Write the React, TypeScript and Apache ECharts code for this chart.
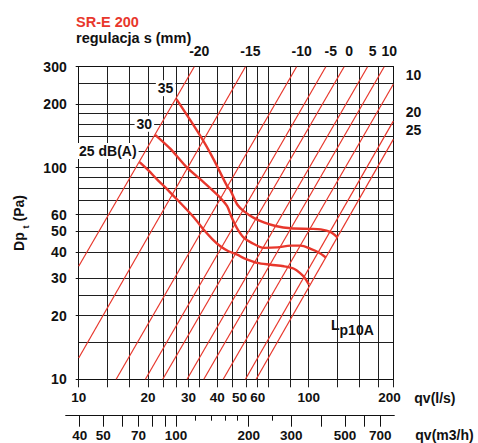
import React, { useEffect, useRef } from 'react';
import * as echarts from 'echarts';

const FONT = '"Liberation Sans", Arial, Helvetica, sans-serif';
const RED = '#e8372c';
const INK = '#111111';
const GRIDC = '#1f1f1f';

// flow axis (l/s)
const qLabels = [10, 20, 30, 40, 50, 60, 100, 200];
const qGrid = [10, 13.33, 16.67, 20, 23.33, 26.67, 30, 33.33, 40, 46.67, 53.33, 60, 66.67, 83.33, 100, 133.3, 166.7, 200, 233.33];
const qMin = 10;
const qMax = 233.33;
// pressure axis (Pa)
const pLabels = [10, 20, 30, 40, 50, 60, 100, 200, 300];
const pGrid = [10, 15, 20, 25, 30, 40, 50, 60, 70, 80, 90, 100, 120, 140, 160, 180, 200, 250, 300];
const pMin = 10;
const pMax = 300;
// flow axis (m3/h)
const m3hMin = 35;
const m3hMax = 800;
const m3hLongTicks = [40, 50, 60, 70, 80, 90, 100, 200, 300, 400, 500, 600, 700];
const m3hShortTicks = [120, 140, 160, 180, 250];
const m3hLabels = [40, 50, 70, 100, 200, 300, 500, 700];

// regulation lines s (mm)
const sLabels = ['-20', '-15', '-10', '-5', '0', '5', '10', '10', '20', '25'];
const sLineStart = [
  [10, 34.2], [10, 12.6], [14.55, 10], [19.5, 10], [23.2, 10],
  [29.6, 10], [35.0, 10], [42.5, 10], [53.1, 10], [59.1, 10],
];
const sLineEnd = [
  [31.8, 300], [53.1, 300], [88.6, 300], [118.7, 300], [142.6, 300],
  [180.3, 300], [213, 300], [233.33, 248], [233.33, 166], [233.33, 136],
];

// sound level curves Lp10A
const dbLabels = ['25 dB(A)', '30', '35'];
const curve25 = [
  [18.4, 106.3], [20.1, 97.1], [21.9, 88.0], [23.8, 80.7], [25.9, 73.4], [28.5, 65.9],
  [30.6, 60.7], [32.5, 56.3], [34.9, 51.0], [38.1, 46.0], [41.3, 42.5], [44.8, 40.3],
  [48.9, 38.8], [52.2, 37.4], [59.7, 35.5], [68.3, 34.8], [78.0, 34.2], [86.3, 33.3],
  [92.3, 31.6], [96.1, 30.2], [100.3, 28.0],
];
const curve30 = [
  [21.5, 143], [25.0, 123], [29.6, 100], [34.9, 85.5], [40.6, 73.4], [44.2, 65.8],
  [45.7, 60.1], [47.6, 54.5], [49.5, 50.4], [52.2, 46.7], [55.8, 44.5], [63.8, 41.8],
  [73.0, 42.0], [83.5, 42.8], [92.3, 42.8], [102.0, 41.3], [110.6, 39.7], [118.7, 37.6],
];
const curve35 = [
  [26.6, 210.7], [33.8, 141.2], [38.6, 109.5], [44.2, 81.8], [45.7, 78.1], [48.9, 67.0],
  [52.2, 62.3], [57.7, 57.9], [63.8, 55.1], [71.8, 53.0], [83.5, 51.7], [102.0, 51.4],
  [112.8, 51.1], [124.7, 49.6], [133.4, 46.8],
];
const dbCurves = [curve25, curve30, curve35];

const bold = { fontFamily: FONT, fontWeight: 'bold' as const, color: INK };

export default function App() {
  const ref = useRef<HTMLDivElement>(null);
  useEffect(() => {
    if (!ref.current) return;
    const chart = echarts.init(ref.current, undefined, { renderer: 'svg' });

    const sSeries = sLineStart.map((st, i) => {
      const atTop = sLineEnd[i][1] >= pMax;
      return {
        type: 'line',
        name: 's ' + sLabels[i],
        xAxisIndex: 0,
        yAxisIndex: 0,
        data: [st, sLineEnd[i]],
        symbol: 'none',
        clip: false,
        silent: true,
        z: 3,
        lineStyle: { color: RED, width: 1.2 },
        markPoint: {
          symbol: 'circle',
          symbolSize: 1,
          silent: true,
          itemStyle: { color: 'rgba(0,0,0,0)' },
          data: [{ coord: sLineEnd[i], value: sLabels[i] }],
          label: atTop
            ? { show: true, position: 'top', distance: 8, offset: [5, 0], formatter: sLabels[i], fontSize: 14, ...bold }
            : { show: true, position: 'right', distance: 12, offset: [0, -9], formatter: sLabels[i], fontSize: 14, ...bold },
        },
      };
    });

    const dbSeries = dbCurves.map((c, i) => ({
      type: 'line',
      name: dbLabels[i],
      xAxisIndex: 0,
      yAxisIndex: 0,
      data: c,
      smooth: 0.3,
      symbol: 'none',
      clip: false,
      silent: true,
      z: 4,
      lineStyle: { color: RED, width: 2.4 },
      markPoint: {
        symbol: 'circle',
        symbolSize: 1,
        silent: true,
        itemStyle: { color: 'rgba(0,0,0,0)' },
        data: [{ coord: c[0], value: dbLabels[i] }],
        label: {
          show: true,
          position: 'inside',
          align: 'right',
          offset: [-1, -11],
          formatter: dbLabels[i],
          fontSize: 14,
          backgroundColor: '#ffffff',
          padding: [1, 2],
          ...bold,
        },
      },
    }));

    const option: any = {
      animation: false,
      textStyle: { fontFamily: FONT },
      title: {
        text: 'SR-E 200',
        subtext: 'regulacja s (mm)',
        left: 71,
        top: 9,
        padding: 5,
        itemGap: 1,
        textStyle: { color: RED, fontSize: 14.5, fontWeight: 'bold', fontFamily: FONT },
        subtextStyle: { color: INK, fontSize: 14.5, fontWeight: 'bold', fontFamily: FONT },
      },
      grid: [
        { left: 78.7, top: 66.7, width: 314.6, height: 312.6, containLabel: false, outerBoundsMode: 'none' },
        { left: 65.7, top: 400, width: 328.6, height: 15.7, containLabel: false, outerBoundsMode: 'none' },
      ],
      xAxis: [
        {
          type: 'log', logBase: 10, gridIndex: 0, position: 'bottom', min: qMin, max: qMax,
          axisLine: { show: true, onZero: false, lineStyle: { color: INK, width: 1 } },
          axisTick: { show: true, customValues: qGrid, length: 8, inside: false, lineStyle: { color: GRIDC, width: 1 } },
          axisLabel: {
            show: true, customValues: qLabels, margin: 11.5, fontSize: 13.5, hideOverlap: false, ...bold,
            formatter: (v: number) => (Math.round(v) === 200 ? '{r|200}' : String(Math.round(v))),
            rich: { r: { padding: [0, 0, 0, 23], fontSize: 13.5, ...bold } },
          },
          splitLine: { show: true, lineStyle: { color: GRIDC, width: 1 } },
          minorTick: { show: false },
          minorSplitLine: { show: false },
          name: 'qv(l/s)',
          nameLocation: 'end',
          nameGap: 21,
          nameTextStyle: { fontSize: 14, ...bold, align: 'left', verticalAlign: 'top', padding: [12, 0, 0, 0] },
        },
        {
          type: 'log', logBase: 10, gridIndex: 0, position: 'top', min: qMin, max: qMax,
          axisLine: { show: true, onZero: false, lineStyle: { color: INK, width: 1 } },
          axisTick: { show: false },
          axisLabel: { show: false },
          splitLine: { show: false },
        },
        {
          type: 'log', logBase: 10, gridIndex: 1, position: 'bottom', offset: 0, min: m3hMin, max: m3hMax,
          axisLine: { show: true, onZero: false, lineStyle: { color: INK, width: 1 } },
          axisTick: { show: true, customValues: m3hLongTicks, length: 11, inside: false, lineStyle: { color: INK, width: 1 } },
          axisLabel: {
            show: true, customValues: m3hLabels, margin: 12.5, fontSize: 13.5, hideOverlap: false, ...bold,
            formatter: (v: number) => String(Math.round(v)),
          },
          splitLine: { show: false },
          name: 'qv(m3/h)',
          nameLocation: 'end',
          nameGap: 21,
          nameTextStyle: { fontSize: 14, ...bold, align: 'left', verticalAlign: 'top', padding: [12, 0, 0, 0] },
        },
        {
          type: 'log', logBase: 10, gridIndex: 1, position: 'bottom', offset: 0, min: m3hMin, max: m3hMax,
          axisLine: { show: false },
          axisTick: { show: true, customValues: m3hShortTicks, length: 5, inside: false, lineStyle: { color: INK, width: 1 } },
          axisLabel: { show: false },
          splitLine: { show: false },
        },
      ],
      yAxis: [
        {
          type: 'log', logBase: 10, gridIndex: 0, position: 'left', min: pMin, max: pMax,
          axisLine: { show: true, onZero: false, lineStyle: { color: INK, width: 1 } },
          axisTick: { show: true, customValues: pLabels, length: 3, inside: false, lineStyle: { color: INK, width: 1 } },
          axisLabel: {
            show: true, customValues: pLabels, margin: 12, fontSize: 14, hideOverlap: false, ...bold,
            formatter: (v: number) => String(Math.round(v)),
          },
          splitLine: { show: false },
          name: '{a|Dp }{s|t}{a| (Pa)}',
          nameLocation: 'middle',
          nameGap: 48,
          nameRotate: 90,
          nameTextStyle: {
            ...bold,
            fontSize: 14,
            rich: {
              a: { fontSize: 14, ...bold },
              s: { fontSize: 9, padding: [14, 0, 0, 0], ...bold },
            },
          },
        },
        {
          type: 'log', logBase: 10, gridIndex: 0, position: 'right', min: pMin, max: pMax,
          axisLine: { show: true, onZero: false, lineStyle: { color: INK, width: 1 } },
          axisTick: { show: false, customValues: pGrid },
          axisLabel: { show: false },
          splitLine: { show: true, lineStyle: { color: GRIDC, width: 1 } },
          minorTick: { show: false },
          minorSplitLine: { show: false },
        },
        { type: 'value', gridIndex: 1, show: false, min: 0, max: 1 },
      ],
      graphic: [
        {
          type: 'text',
          left: 331,
          top: 318,
          z: 10,
          style: {
            text: '{L|L}{p|p10A}',
            rich: {
              L: { fontSize: 14, fontFamily: FONT, fontWeight: 'bold', fill: INK },
              p: { fontSize: 14, fontFamily: FONT, fontWeight: 'bold', fill: INK, padding: [10, 0, 0, 0] },
            },
          },
        },
      ],
      series: [...sSeries, ...dbSeries],
    };

    chart.setOption(option);
    return () => chart.dispose();
  }, []);

  return (
    <div
      ref={ref}
      style={{ position: 'fixed', left: 0, top: 0, width: 478, height: 443, background: '#ffffff' }}
    />
  );
}
